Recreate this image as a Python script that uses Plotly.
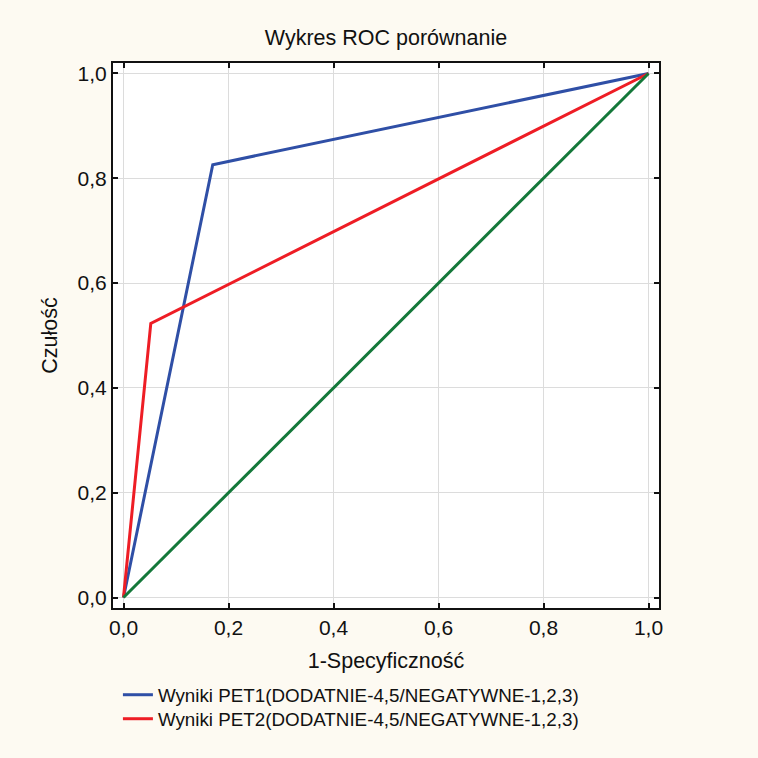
import plotly.graph_objects as go

# ROC curve points (1 - specificity, sensitivity)
pet1_fpr = [0.0, 0.17, 1.0]
pet1_tpr = [0.0, 0.826, 1.0]
pet2_fpr = [0.0, 0.052, 1.0]
pet2_tpr = [0.0, 0.523, 1.0]
ref_fpr = [0.0, 1.0]
ref_tpr = [0.0, 1.0]

pet1_name = "Wyniki PET1(DODATNIE-4,5/NEGATYWNE-1,2,3)"
pet2_name = "Wyniki PET2(DODATNIE-4,5/NEGATYWNE-1,2,3)"
tick_vals = [0.0, 0.2, 0.4, 0.6, 0.8, 1.0]

FONT = "Liberation Sans, Arial, sans-serif"
INK = "#111111"

fig = go.Figure()
fig.add_trace(go.Scatter(x=pet1_fpr, y=pet1_tpr, mode="lines", name=pet1_name,
                         legend="legend",
                         line=dict(color="#2f4fa6", width=3)))
fig.add_trace(go.Scatter(x=pet2_fpr, y=pet2_tpr, mode="lines", name=pet2_name,
                         legend="legend2",
                         line=dict(color="#ee1d25", width=3)))
fig.add_trace(go.Scatter(x=ref_fpr, y=ref_tpr, mode="lines", showlegend=False,
                         line=dict(color="#14783a", width=3)))

axis_common = dict(
    range=[-0.02, 1.02],
    tickvals=tick_vals,
    tickformat=".1f",
    showgrid=True,
    gridcolor="#dcdcdc",
    gridwidth=1,
    zeroline=False,
    showline=True,
    linecolor=INK,
    linewidth=2,
    mirror="ticks",
    ticks="inside",
    ticklen=5,
    tickwidth=1.5,
    tickcolor=INK,
    tickfont=dict(family=FONT, size=21, color=INK),
)

legend_common = dict(x=0.009, xanchor="left", yanchor="middle",
                     bgcolor="rgba(0,0,0,0)", itemwidth=30,
                     font=dict(family=FONT, size=18.8, color=INK))

plot_h = 758 - 63 - 150

fig.update_layout(
    width=758,
    height=758,
    paper_bgcolor="#fdfaf2",
    plot_bgcolor="#ffffff",
    separators=", ",
    margin=dict(l=113, r=99, t=63, b=150, autoexpand=False),
    title=dict(text="Wykres ROC porównanie", x=(113 + 659) / 2 / 758, xanchor="center",
               y=1 - 37 / 758, yanchor="middle",
               font=dict(family=FONT, size=21.5, color=INK)),
    xaxis=dict(axis_common,
               title=dict(text="1-Specyficzność", standoff=15,
                          font=dict(family=FONT, size=21.5, color=INK))),
    yaxis=dict(axis_common,
               title=dict(text="Czułość", standoff=14,
                          font=dict(family=FONT, size=21.5, color=INK))),
    legend=dict(legend_common, y=-(695 - 608) / plot_h),
    legend2=dict(legend_common, y=-(719 - 608) / plot_h),
    showlegend=True,
)

fig.write_html("out.html")
